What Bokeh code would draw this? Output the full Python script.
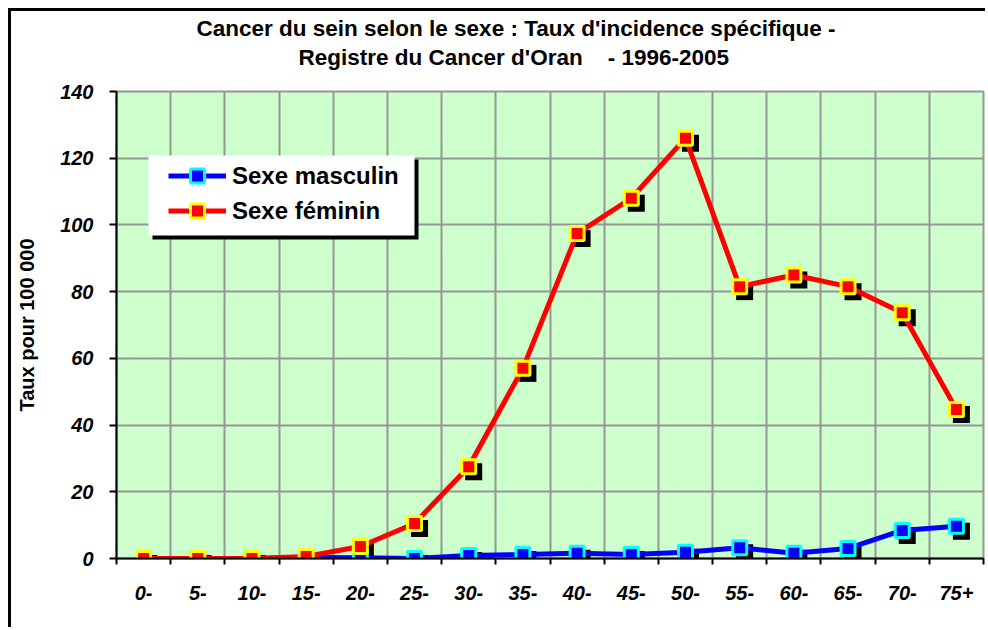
import numpy as np
from bokeh.plotting import figure
from bokeh.models import (FixedTicker, Title, Legend, LegendItem, BoxAnnotation,
                          ColumnDataSource)
from bokeh.embed import file_html
from bokeh.resources import INLINE

# ---- data ----
ages = ["0-", "5-", "10-", "15-", "20-", "25-", "30-", "35-", "40-", "45-",
        "50-", "55-", "60-", "65-", "70-", "75+"]
masculin = [0.0, 0.0, 0.0, 0.3, 0.2, 0.0, 0.9, 1.2, 1.6, 1.2, 1.9, 3.2, 1.6, 3.0, 8.4, 9.7]
feminin = [0.0, 0.0, 0.0, 0.6, 3.6, 10.5, 27.5, 57.0, 97.4, 108.0, 126.0, 81.5, 85.0, 81.5, 73.7, 44.7]
y_ticks = [0, 20, 40, 60, 80, 100, 120, 140]
title_1 = "Cancer du sein selon le sexe : Taux d'incidence spécifique -"
title_2 = "Registre du Cancer d'Oran \u00a0\u00a0 - 1996-2005"
y_label = "Taux pour 100 000"
series_names = ["Sexe masculin", "Sexe féminin"]

FONT = "Liberation Sans"
GRID = "#969696"

x = np.arange(len(ages))
x_min, x_max = -0.5, len(ages) - 0.5
y_min, y_max = 0, 140

W, H = 977, 619
ML, MR, MT, MB = 105, 5, 80, 72
frame_w = W - ML - MR
frame_h = H - MT - MB
px_x = (x_max - x_min) / frame_w      # data units per pixel
px_y = (y_max - y_min) / frame_h

p = figure(width=W, height=H, title=None, output_backend="svg", toolbar_location=None,
           x_range=(x_min, x_max), y_range=(y_min, y_max),
           min_border_left=ML, min_border_right=MR, min_border_top=MT, min_border_bottom=MB)
p.styles = {"margin-left": "8px", "margin-top": "8px",
            "border-left": "3px solid black", "border-top": "3px solid black"}

p.background_fill_color = "#CCFFCC"
p.border_fill_color = "white"
p.outline_line_color = GRID
p.outline_line_width = 2

# x axis: labels at centers, ticks/grid at boundaries
boundaries = list(np.arange(len(ages) + 1) - 0.5)
xt = FixedTicker(ticks=list(x), minor_ticks=boundaries)
p.xaxis.ticker = xt
p.xgrid.ticker = xt
p.xaxis.major_label_overrides = {int(i): a for i, a in zip(x, ages)}
p.xaxis.major_tick_line_color = None
p.xaxis.major_tick_out = 6
p.xaxis.major_tick_in = 0
p.xaxis.minor_tick_line_color = "black"
p.xaxis.minor_tick_line_width = 2
p.xaxis.minor_tick_out = 6
p.xaxis.minor_tick_in = 0
p.xaxis.axis_line_color = "black"
p.xaxis.axis_line_width = 2
p.xaxis.major_label_text_font = FONT
p.xaxis.major_label_text_font_style = "bold italic"
p.xaxis.major_label_text_font_size = "20px"
p.xaxis.major_label_text_color = "black"
p.xaxis.major_label_standoff = 21
p.xgrid.grid_line_color = None
p.xgrid.minor_grid_line_color = GRID
p.xgrid.minor_grid_line_width = 2

# y axis
yt = FixedTicker(ticks=y_ticks)
p.yaxis.ticker = yt
p.ygrid.ticker = yt
p.yaxis.minor_tick_line_color = None
p.yaxis.major_tick_line_color = "black"
p.yaxis.major_tick_line_width = 2
p.yaxis.major_tick_out = 7
p.yaxis.major_tick_in = 0
p.yaxis.axis_line_color = "black"
p.yaxis.axis_line_width = 2
p.yaxis.major_label_text_font = FONT
p.yaxis.major_label_text_font_style = "bold italic"
p.yaxis.major_label_text_font_size = "20px"
p.yaxis.major_label_text_color = "black"
p.yaxis.major_label_standoff = 16
p.yaxis.axis_label = y_label
p.yaxis.axis_label_text_font = FONT
p.yaxis.axis_label_text_font_style = "bold"
p.yaxis.axis_label_text_font_size = "20px"
p.yaxis.axis_label_text_color = "black"
p.yaxis.axis_label_standoff = 19
p.ygrid.grid_line_color = GRID
p.ygrid.grid_line_width = 2

# titles (line 2 first: closest to the plot)
p.add_layout(Title(text=title_2, align="left", offset=182, standoff=44,
                   text_font=FONT, text_font_style="bold", text_font_size="22.5px",
                   text_color="black"), "above")
p.add_layout(Title(text=title_1, align="left", offset=80, standoff=-40,
                   text_font=FONT, text_font_style="bold", text_font_size="22.5px",
                   text_color="black"), "above")

# ---- shadows of markers ----
dx, dy = 5 * px_x, 5 * px_y
src_m = ColumnDataSource(dict(x=x, y=masculin, xs=x + dx, ys=np.array(masculin) - dy))
src_f = ColumnDataSource(dict(x=x, y=feminin, xs=x + dx, ys=np.array(feminin) - dy))
p.scatter("xs", "ys", source=src_m, marker="square", size=17, fill_color="black", line_color=None)
p.scatter("xs", "ys", source=src_f, marker="square", size=17, fill_color="black", line_color=None)

# ---- series ----
lm = p.line("x", "y", source=src_m, line_color="#0000FF", line_width=5)
sm = p.scatter("x", "y", source=src_m, marker="square", size=14,
               fill_color="#0000FF", line_color="#00FFFF", line_width=3)
lf = p.line("x", "y", source=src_f, line_color="#FF0000", line_width=5)
sf = p.scatter("x", "y", source=src_f, marker="square", size=14,
               fill_color="#FF0000", line_color="#FFFF00", line_width=3)

# ---- legend box with shadow ----
lg_left, lg_right, lg_top, lg_bottom = 32, 298, 64, 144   # pixels from frame left/top
def bx(px):
    return x_min + px * px_x
def by(py):
    return y_max - py * px_y
p.add_layout(BoxAnnotation(left=bx(lg_left + 4), right=bx(lg_right + 4),
                           top=by(lg_top + 4), bottom=by(lg_bottom + 4),
                           fill_color="black", fill_alpha=1, line_color=None))
p.add_layout(BoxAnnotation(left=bx(lg_left), right=bx(lg_right),
                           top=by(lg_top), bottom=by(lg_bottom),
                           fill_color="white", fill_alpha=1, line_color=None))

legend = Legend(items=[LegendItem(label=series_names[0], renderers=[lm, sm]),
                       LegendItem(label=series_names[1], renderers=[lf, sf])],
                location=(52, frame_h - 64 - 3 - 70), padding=0, margin=0, spacing=0,
                glyph_width=58, glyph_height=35, label_standoff=6,
                background_fill_alpha=0, border_line_color=None,
                label_text_font=FONT, label_text_font_style="bold",
                label_text_font_size="24px", label_text_color="black")
p.add_layout(legend)

open("out.html", "w").write(file_html(p, INLINE))
